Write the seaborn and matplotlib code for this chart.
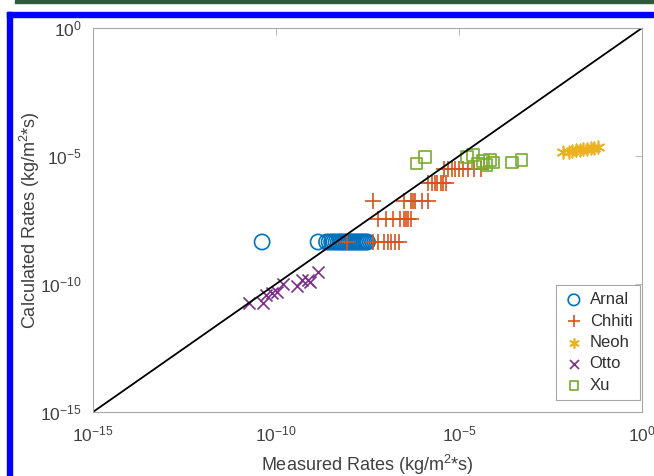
import numpy as np
import pandas as pd
import matplotlib.pyplot as plt
import matplotlib.patches as patches
import seaborn as sns

# values as log10 of the rates
arnal_x = [-10.38, -8.85, -8.62, -8.55, -8.48, -8.42, -8.36, -8.3, -8.25, -8.2, -8.15, -8.1,
           -8.05, -8.0, -7.95, -7.9, -7.85, -7.8, -7.75, -7.7, -7.65, -7.6, -7.55, -7.5]
arnal_y = [-8.36] * len(arnal_x)

chhiti_x = [-8.05, -7.35, -7.2, -7.05, -6.95, -6.85, -6.75, -6.65,
            -7.2, -7.0, -6.8, -6.6, -6.5, -6.45, -6.4, -6.3,
            -7.35, -6.5, -6.3, -6.25, -6.2, -6.0, -5.85,
            -5.85, -5.75, -5.65, -5.6, -5.5, -5.45, -5.35,
            -5.4, -5.3, -5.2, -5.1, -5.0, -4.9, -4.75, -4.6, -4.4]
chhiti_y = [-8.36] * 8 + [-7.46] * 8 + [-6.75] * 7 + [-6.05] * 7 + [-5.5] * 9

neoh_x = [-2.15, -2.0, -1.9, -1.8, -1.7, -1.6, -1.5, -1.4, -1.3, -1.2]
neoh_y = [-4.85, -4.83, -4.8, -4.78, -4.76, -4.74, -4.72, -4.7, -4.68, -4.66]

otto_x = [-10.73, -10.35, -10.27, -10.12, -9.98, -9.8, -9.43, -9.3, -9.12, -9.07, -8.84]
otto_y = [-10.75, -10.75, -10.43, -10.36, -10.3, -10.01, -10.07, -9.84, -9.84, -9.91, -9.52]

xu_x = [-6.16, -5.93, -4.79, -4.62, -4.48, -4.35, -4.25, -4.15, -4.07, -3.56, -3.29]
xu_y = [-5.29, -5.05, -5.03, -4.96, -5.3, -5.2, -5.35, -5.15, -5.25, -5.26, -5.16]

groups = ["Arnal", "Chhiti", "Neoh", "Otto", "Xu"]
xs = [arnal_x, chhiti_x, neoh_x, otto_x, xu_x]
ys = [arnal_y, chhiti_y, neoh_y, otto_y, xu_y]

frames = []
for g, x, y in zip(groups, xs, ys):
    frames.append(pd.DataFrame({"source": g, "measured": 10.0 ** np.array(x),
                                "calculated": 10.0 ** np.array(y)}))
df = pd.concat(frames, ignore_index=True)

colors = {"Arnal": "#0072BD", "Chhiti": "#D95319", "Neoh": "#EDB120",
          "Otto": "#7E2F8E", "Xu": "#77AC30"}
markers = {"Arnal": "o", "Chhiti": "+", "Neoh": (6, 2, 0), "Otto": "x", "Xu": "s"}
sizes = {"Arnal": 120, "Chhiti": 130, "Neoh": 80, "Otto": 75, "Xu": 70}

sns.set_style("white")
plt.rcParams["font.family"] = ["Liberation Sans", "DejaVu Sans"]

fig = plt.figure(figsize=(6.54, 4.76), dpi=100)
ax = fig.add_axes([0.1422, 0.1345, 0.8395, 0.8067])

for g in groups:
    sub = df[df["source"] == g]
    c = colors[g]
    if markers[g] in ("o", "s"):
        sns.scatterplot(data=sub, x="measured", y="calculated", ax=ax, marker=markers[g],
                        s=sizes[g], facecolor="none", edgecolor=c, linewidth=1.2, label=g)
    else:
        sns.scatterplot(data=sub, x="measured", y="calculated", ax=ax, marker=markers[g],
                        s=sizes[g], color=c, linewidth=1.2, label=g)

ax.plot([1e-15, 1], [1e-15, 1], color="black", lw=1.3, zorder=1)

ax.set_xscale("log")
ax.set_yscale("log")
ax.set_xlim(1e-15, 1)
ax.set_ylim(1e-15, 1)
ticks = [1e-15, 1e-10, 1e-5, 1]
tick_labels = [r"$\mathregular{10^{-15}}$", r"$\mathregular{10^{-10}}$",
               r"$\mathregular{10^{-5}}$", r"$\mathregular{10^{0}}$"]
ax.set_xticks(ticks)
ax.set_yticks(ticks)
ax.minorticks_off()
ax.set_xticklabels(tick_labels)
ax.set_yticklabels(tick_labels)
ax.tick_params(direction="in", length=5, width=0.6, colors="#b0b0b0",
               labelcolor="#404040", labelsize=12.5, top=True, right=True)
ax.tick_params(axis="x", pad=9)
ax.tick_params(axis="y", pad=8)
for sp in ax.spines.values():
    sp.set_color("#a8a8a8")
    sp.set_linewidth(0.8)

ax.set_xlabel(r"Measured Rates (kg/m$\mathregular{^{2}}$*s)", fontsize=13, color="#404040", labelpad=6)
ax.set_ylabel(r"Calculated Rates (kg/m$\mathregular{^{2}}$*s)", fontsize=13, color="#404040", labelpad=-1)

leg = ax.legend(loc="lower right", bbox_to_anchor=(0.996, 0.031), borderaxespad=0,
                frameon=True, fancybox=False,
                fontsize=12, handletextpad=0.3, borderpad=0.45, labelspacing=0.38,
                handlelength=1.3, markerscale=0.75)
leg.get_frame().set_edgecolor("#909090")
leg.get_frame().set_linewidth(0.8)
for t in leg.get_texts():
    t.set_color("#303030")

# screenshot frame: green rule at top and blue border
fig.patches.append(patches.Rectangle((15 / 654, 1 - 3 / 476), 1, 3 / 476, transform=fig.transFigure,
                                     color="#2e5b3c", zorder=0))
fig.patches.append(patches.Rectangle((7 / 654, 1 - 17 / 476), 1, 5 / 476, transform=fig.transFigure,
                                     color="#0000ff", zorder=0))
fig.patches.append(patches.Rectangle((7 / 654, 0), 5 / 654, 1 - 12 / 476, transform=fig.transFigure,
                                     color="#0000ff", zorder=0))

fig.savefig("out.png", dpi=100)
